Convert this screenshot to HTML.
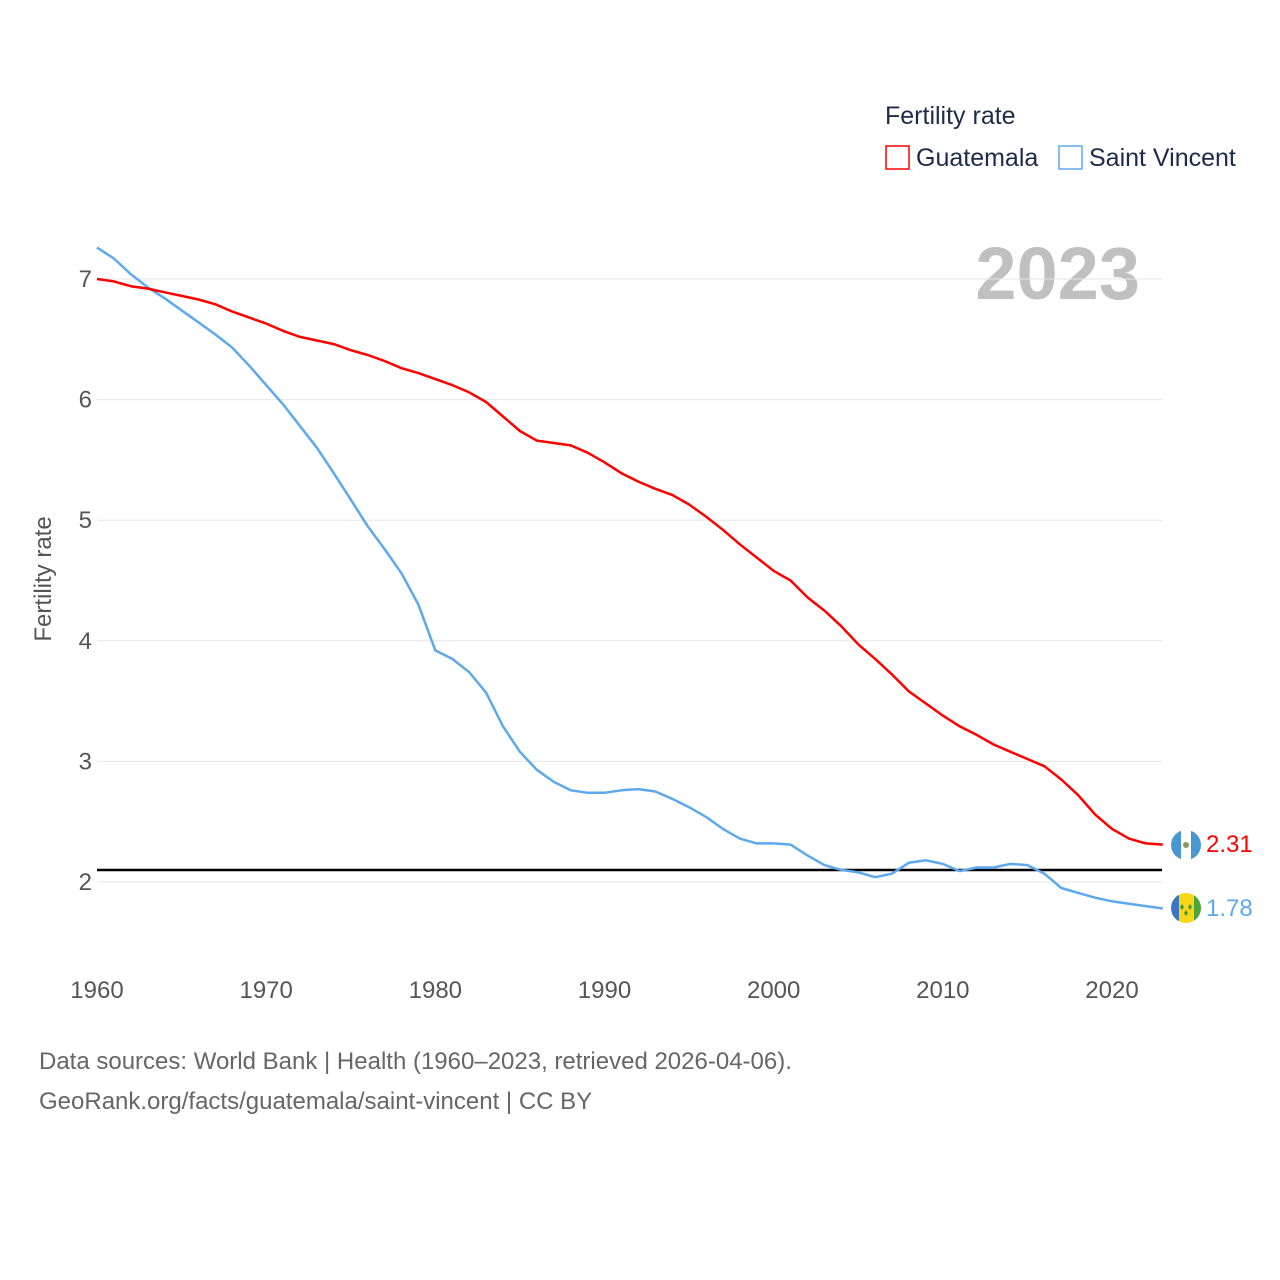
<!DOCTYPE html>
<html><head><meta charset="utf-8"><style>
body{margin:0;background:#fff;width:1280px;height:1280px;overflow:hidden;font-family:"Liberation Sans",sans-serif}
svg{display:block}
</style></head><body>
<svg id="chart" width="1280" height="1280" xmlns="http://www.w3.org/2000/svg">
<g>
<text x="885" y="124" font-size="25" fill="#1c2b4a">Fertility rate</text>
<rect x="886" y="146" width="23" height="23" fill="none" stroke="#ff0000" stroke-width="1.5"/>
<text x="916" y="166" font-size="25" fill="#1c2b4a">Guatemala</text>
<rect x="1059" y="146" width="23" height="23" fill="none" stroke="#5ea8ee" stroke-width="1.5"/>
<text x="1089" y="166" font-size="25" fill="#1c2b4a">Saint Vincent</text>
</g>
<text x="1140" y="299" font-size="74" font-weight="bold" fill="#c0c0c0" text-anchor="end">2023</text>
<g id="grid"></g>
<g id="yticks"></g>
<g id="xticks"></g>
<text transform="translate(51,579) rotate(-90)" font-size="24" fill="#555" text-anchor="middle">Fertility rate</text>
<g id="lines"></g>
<g>
<g>
<clipPath id="c1"><circle cx="1186" cy="845" r="15"/></clipPath>
<g clip-path="url(#c1)"><rect x="1171" y="830" width="10" height="30" fill="#4997d0"/><rect x="1181" y="830" width="10" height="30" fill="#fff"/><rect x="1191" y="830" width="10" height="30" fill="#4997d0"/></g>
<circle cx="1186" cy="845" r="3" fill="#8a9a5b"/>
</g>
<g>
<clipPath id="c2"><circle cx="1186" cy="908" r="15"/></clipPath>
<g clip-path="url(#c2)"><rect x="1171" y="893" width="8" height="30" fill="#3a75c4"/><rect x="1179" y="893" width="15" height="30" fill="#f9d616"/><rect x="1194" y="893" width="8" height="30" fill="#4fa33b"/></g>
<path d="M1182 904l2 3-2 3-2-3zM1190 904l2 3-2 3-2-3zM1186 910l2 3-2 3-2-3z" fill="#3a9a3b"/>
</g>
<text x="1206" y="852" font-size="24" fill="#ff0000">2.31</text>
<text x="1206" y="916" font-size="24" fill="#5ea8ee">1.78</text>
</g>
<g>
<text x="39" y="1069" font-size="24" fill="#666">Data sources: World Bank | Health (1960–2023, retrieved 2026-04-06).</text>
<text x="39" y="1109" font-size="24" fill="#666">GeoRank.org/facts/guatemala/saint-vincent | CC BY</text>
</g>
</svg>
<script>
const years=[];for(let y=1960;y<=2023;y++)years.push(y);
const guatemala=[7.0,6.98,6.94,6.92,6.89,6.86,6.83,6.79,6.73,6.68,6.63,6.57,6.52,6.49,6.46,6.41,6.37,6.32,6.26,6.22,6.17,6.12,6.06,5.98,5.86,5.74,5.66,5.64,5.62,5.56,5.48,5.39,5.32,5.26,5.21,5.13,5.03,4.92,4.80,4.69,4.58,4.50,4.36,4.25,4.12,3.97,3.85,3.72,3.58,3.48,3.38,3.29,3.22,3.14,3.08,3.02,2.96,2.85,2.72,2.56,2.44,2.36,2.32,2.31];
const saintVincent=[7.26,7.17,7.04,6.93,6.84,6.74,6.64,6.54,6.43,6.28,6.12,5.96,5.78,5.60,5.39,5.17,4.95,4.76,4.56,4.30,3.92,3.85,3.74,3.57,3.29,3.08,2.93,2.83,2.76,2.74,2.74,2.76,2.77,2.75,2.69,2.62,2.54,2.44,2.36,2.32,2.32,2.31,2.22,2.14,2.10,2.08,2.04,2.07,2.16,2.18,2.15,2.09,2.12,2.12,2.15,2.14,2.07,1.95,1.91,1.87,1.84,1.82,1.80,1.78];
const yTicks=[2,3,4,5,6,7];
const xTicks=[1960,1970,1980,1990,2000,2010,2020];
const replacement=2.1;
const X=y=>97+(y-1960)*(1112-97)/60;
const Y=v=>882-(v-2)*(882-279)/5;
const NS='http://www.w3.org/2000/svg';
function mk(tag,attrs,parent){const e=document.createElementNS(NS,tag);for(const k in attrs)e.setAttribute(k,attrs[k]);parent.appendChild(e);return e;}
const grid=document.getElementById('grid'),yt=document.getElementById('yticks'),xt=document.getElementById('xticks'),lines=document.getElementById('lines');
yTicks.forEach(v=>{
const l=mk('line',{x1:97,x2:1162,y1:Y(v),y2:Y(v),stroke:'#e6e6e6','stroke-width':1},grid);


const t=mk('text',{x:92,y:Y(v)+8,'font-size':24,fill:'#555','text-anchor':'end'},yt);
t.textContent=v;


});
xTicks.forEach(v=>{
const t=mk('text',{x:X(v),y:998,'font-size':24,fill:'#555','text-anchor':'middle'},xt);
t.textContent=v;


});
const ref=mk('line',{x1:97,x2:1162,y1:Y(replacement),y2:Y(replacement),stroke:'#000','stroke-width':2.5},lines);


function series(vals,color,name){
const d=vals.map((v,i)=>(i?'L':'M')+X(years[i]).toFixed(1)+' '+Y(v).toFixed(1)).join(' ');
const p=mk('path',{d:d,fill:'none',stroke:color,'stroke-width':2.5,'stroke-linejoin':'round'},lines);


}
series(saintVincent,'#5ea8ee','saint-vincent-line');
series(guatemala,'#ff0000','guatemala-line');
</script>
</body></html>
